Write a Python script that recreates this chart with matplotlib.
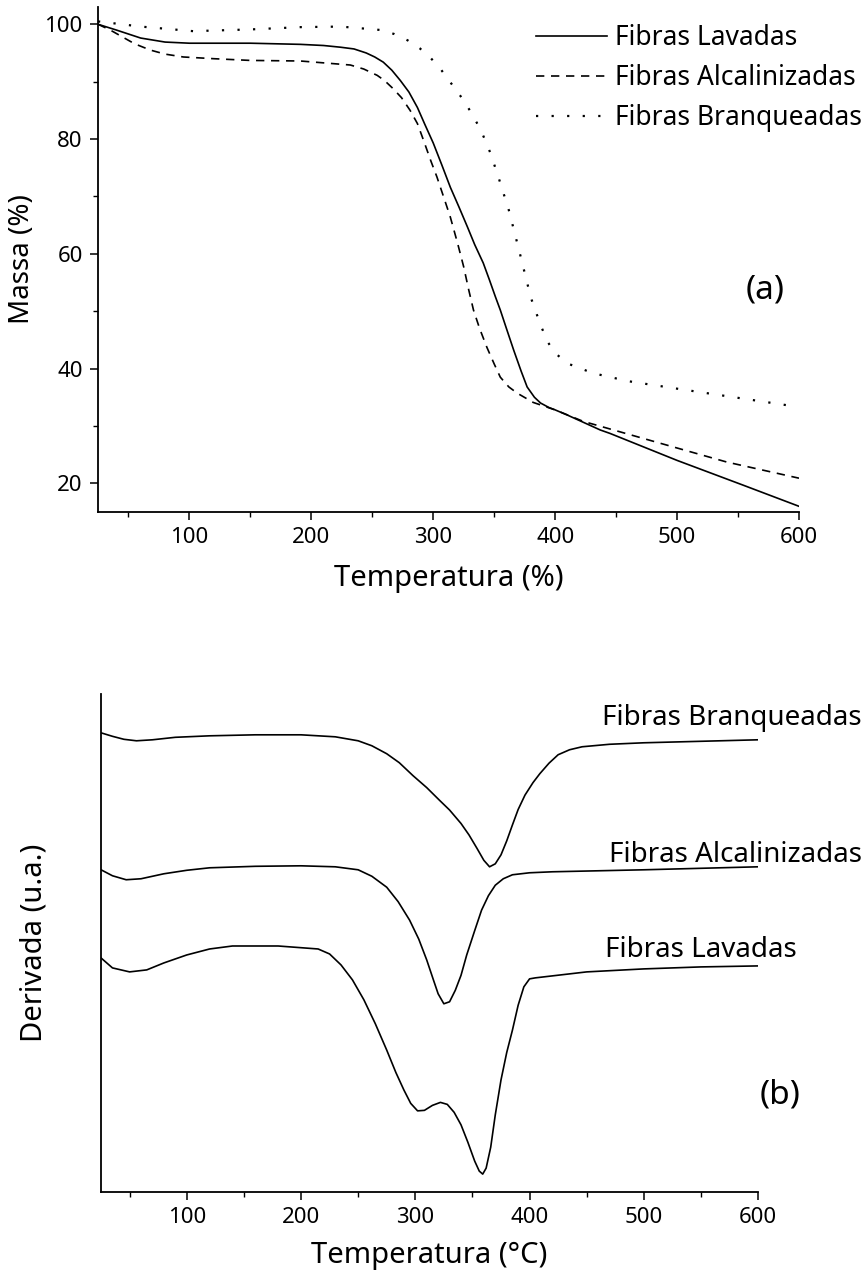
import matplotlib
matplotlib.use("Agg")
import matplotlib.pyplot as plt
from matplotlib.ticker import MultipleLocator, NullLocator

plt.rcParams['font.family'] = ['Noto Sans', 'DejaVu Sans']

# ---- (a) TG curves: mass (%) vs temperature
tg_temp_lav = [25, 40, 60, 80, 100, 150, 191, 210, 224, 235, 245, 252, 259, 266, 273, 280,
               287, 293, 300, 307, 314, 321, 328, 334, 341, 346, 351, 355, 360, 366, 372,
               377, 383, 388, 395, 400, 410, 437, 445, 500, 554, 600]
tg_mass_lav = [100, 99.0, 97.6, 96.9, 96.7, 96.7, 96.5, 96.3, 96.0, 95.7, 95.0, 94.3, 93.4,
               92.0, 90.2, 88.2, 85.5, 82.6, 79.3, 75.5, 71.6, 68.2, 64.7, 61.6, 58.4, 55.5,
               52.5, 50.2, 47.0, 43.2, 39.6, 36.8, 35.0, 34.0, 33.2, 32.8, 31.9, 29.3, 28.7,
               24.0, 19.7, 16.0]

tg_temp_alc = [25, 35, 45, 55, 68, 80, 95, 120, 150, 191, 232, 243, 254, 260, 267, 274,
               281, 287, 292, 298, 303, 309, 314, 320, 325, 329, 333, 338, 344, 350, 355,
               362, 369, 382, 400, 423, 486, 541, 600]
tg_mass_alc = [100, 99.0, 97.8, 96.6, 95.5, 94.8, 94.3, 94.0, 93.7, 93.6, 92.9, 92.2, 91.1,
               90.2, 88.8, 87.2, 85.0, 82.7, 79.8, 76.2, 73.4, 69.6, 66.4, 61.8, 57.7, 53.8,
               50.2, 47.0, 43.7, 40.8, 38.5, 36.8, 35.7, 34.1, 32.8, 30.8, 27.0, 23.7, 20.9]

tg_temp_bra = [25, 60, 103, 150, 191, 224, 257, 268, 279, 289, 298, 306, 314, 322, 330,
               339, 347, 354, 362, 371, 380, 388, 394, 400, 410, 431, 460, 500, 550, 600]
tg_mass_bra = [100.5, 99.6, 98.8, 99.1, 99.5, 99.6, 99.0, 98.3, 97.2, 95.8, 94.1, 92.2,
               89.9, 87.6, 85.0, 81.6, 77.5, 73.0, 67.6, 60.1, 52.4, 47.6, 44.6, 42.7, 40.9,
               39.2, 37.8, 36.5, 34.9, 33.3]

# ---- (b) DTG curves (arbitrary units, shifted)
dtg_temp_bra = [25, 35, 45, 56, 70, 90, 120, 160, 200, 230, 250, 262, 275, 286, 298, 310,
                321, 330, 340, 347, 354, 360, 365, 370, 375, 380, 385, 390, 396, 403, 409,
                417, 425, 435, 446, 470, 500, 550, 600]
dtg_val_bra = [92.2, 91.5, 90.9, 90.6, 90.8, 91.3, 91.6, 91.8, 91.8, 91.4, 90.6, 89.6, 88.0,
               86.2, 83.6, 81.2, 78.7, 76.7, 74.0, 71.7, 69.0, 66.6, 65.3, 65.9, 67.7, 70.5,
               73.7, 76.8, 79.7, 82.2, 84.0, 86.1, 87.8, 88.8, 89.4, 89.9, 90.2, 90.5, 90.8]

dtg_temp_alc = [25, 35, 47, 60, 80, 100, 120, 160, 200, 230, 250, 262, 275, 285, 295, 303,
                310, 316, 320, 325, 330, 335, 340, 345, 352, 358, 364, 370, 377, 385, 400,
                420, 500, 600]
dtg_val_alc = [64.7, 63.5, 62.7, 62.9, 63.9, 64.6, 65.1, 65.4, 65.5, 65.3, 64.7, 63.4, 61.2,
               58.3, 54.6, 50.8, 46.6, 42.5, 39.8, 37.8, 38.2, 40.5, 43.5, 47.6, 52.5, 56.6,
               59.5, 61.6, 62.9, 63.7, 64.1, 64.3, 64.7, 65.3]

dtg_temp_lav = [25, 35, 50, 65, 80, 100, 120, 140, 180, 215, 225, 235, 245, 255, 265, 275,
                283, 290, 296, 302, 308, 315, 322, 328, 334, 340, 346, 352, 356, 359, 362,
                366, 370, 375, 380, 385, 390, 395, 400, 405, 420, 450, 500, 550, 600]
dtg_val_lav = [47.0, 45.0, 44.2, 44.6, 46.0, 47.6, 48.8, 49.4, 49.4, 48.8, 47.8, 45.6, 42.6,
               38.6, 33.8, 28.5, 24.0, 20.5, 17.8, 16.3, 16.4, 17.4, 18.0, 17.6, 16.0, 13.5,
               10.0, 6.2, 4.2, 3.6, 4.8, 9.0, 15.5, 22.5, 28.0, 32.5, 37.5, 41.2, 42.8, 43.0,
               43.4, 44.2, 44.8, 45.2, 45.4]

labels = ["Fibras Lavadas", "Fibras Alcalinizadas", "Fibras Branqueadas"]

fig = plt.figure(figsize=(8.68, 12.83), dpi=100)
ax1 = fig.add_axes([0.1129, 0.6009, 0.8076, 0.3936])
ax2 = fig.add_axes([0.1164, 0.0709, 0.7570, 0.3882])

lw = 1.2
ax1.plot(tg_temp_lav, tg_mass_lav, color='black', lw=lw, label=labels[0])
ax1.plot(tg_temp_alc, tg_mass_alc, color='black', lw=lw, dashes=(5, 4), label=labels[1])
ax1.plot(tg_temp_bra, tg_mass_bra, color='black', lw=1.6, dashes=(1, 6), label=labels[2])

ax1.set_xlim(25, 600)
ax1.set_ylim(15, 103)
ax1.xaxis.set_major_locator(MultipleLocator(100))
ax1.xaxis.set_minor_locator(MultipleLocator(50))
ax1.yaxis.set_major_locator(MultipleLocator(20))
ax1.yaxis.set_minor_locator(MultipleLocator(10))
ax1.set_xlabel("Temperatura (%)", fontsize=21, labelpad=11)
ax1.set_ylabel("Massa (%)", fontsize=20, labelpad=6)
ax1.text(572, 53.7, "(a)", fontsize=24, ha='center', va='center')
ax1.legend(loc='upper right', bbox_to_anchor=(0.993, 0.981), bbox_transform=fig.transFigure,
           frameon=False, fontsize=19, handlelength=2.7, handletextpad=0.3,
           labelspacing=0.45, borderaxespad=0, borderpad=0)

ax2.plot(dtg_temp_bra, dtg_val_bra, color='black', lw=lw)
ax2.plot(dtg_temp_alc, dtg_val_alc, color='black', lw=lw)
ax2.plot(dtg_temp_lav, dtg_val_lav, color='black', lw=lw)
ax2.set_xlim(25, 600)
ax2.set_ylim(0, 100)
ax2.xaxis.set_major_locator(MultipleLocator(100))
ax2.xaxis.set_minor_locator(MultipleLocator(50))
ax2.yaxis.set_major_locator(NullLocator())
ax2.set_xlabel("Temperatura (°C)", fontsize=21, labelpad=9)
ax2.set_ylabel("Derivada (u.a.)", fontsize=21, labelpad=38)
ax2.text(691, 95.2, labels[2], fontsize=20, ha='right', va='center', clip_on=False)
ax2.text(691, 67.7, labels[1], fontsize=20, ha='right', va='center', clip_on=False)
ax2.text(634, 48.6, labels[0], fontsize=20, ha='right', va='center', clip_on=False)
ax2.text(619, 19.5, "(b)", fontsize=24, ha='center', va='center')

for ax in (ax1, ax2):
    ax.spines['top'].set_visible(False)
    ax.spines['right'].set_visible(False)
    ax.spines['left'].set_linewidth(1.3)
    ax.spines['bottom'].set_linewidth(1.3)
    ax.tick_params(which='major', direction='out', length=6, width=1.1, labelsize=16, pad=5)
    ax.tick_params(which='minor', direction='out', length=3.5, width=1.0)

fig.savefig("out.png", dpi=100)
